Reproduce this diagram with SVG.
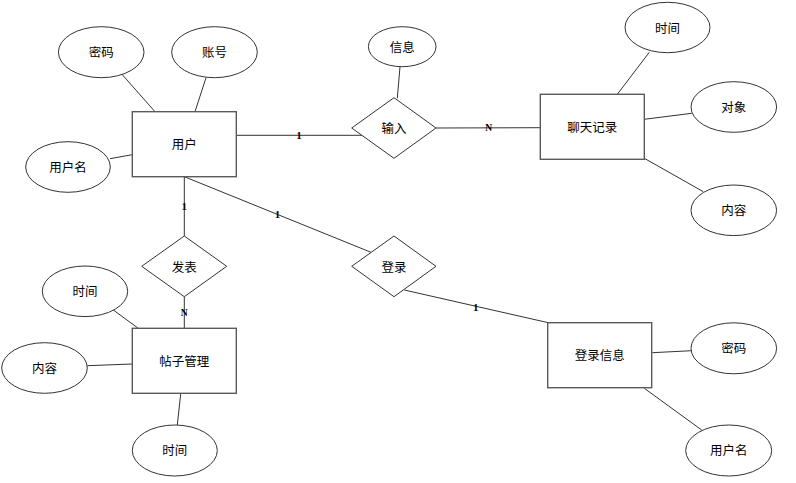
<svg xmlns="http://www.w3.org/2000/svg" width="796" height="483" viewBox="0 0 796 483">
<style>
.bg{fill:#ffffff}
.ent{fill:#ffffff;stroke:#5a5a5a;stroke-width:1.4}
.attr{fill:#ffffff;stroke:#333333;stroke-width:1}
.rel{fill:#ffffff;stroke:#333333;stroke-width:1}
.ln{stroke:#333333;stroke-width:1;fill:none}
.t{font-family:"Noto Sans CJK SC","Noto Sans",sans-serif;font-size:12.5px;fill:#000000;text-anchor:middle;dominant-baseline:central}
.card{font-family:"Liberation Serif",serif;font-weight:bold;font-size:11px;fill:#000000;text-anchor:middle;dominant-baseline:central}
</style>
<rect class="bg" x="0" y="0" width="796" height="483"/>
<g id="connectors">
<line class="ln" x1="121.7" y1="74" x2="155" y2="111.7"/>
<line class="ln" x1="206" y1="77.7" x2="195" y2="111.7"/>
<line class="ln" x1="110" y1="158.7" x2="132.3" y2="154.7"/>
<line class="ln" x1="400" y1="66.7" x2="397.3" y2="98.3"/>
<line class="ln" x1="236.3" y1="135.3" x2="361.9" y2="135.3"/>
<line class="ln" x1="436" y1="128" x2="540.3" y2="127.7"/>
<line class="ln" x1="649.3" y1="52.3" x2="617.3" y2="94.3"/>
<line class="ln" x1="644.3" y1="119.3" x2="691.7" y2="113.3"/>
<line class="ln" x1="644.3" y1="158.3" x2="703.3" y2="191.7"/>
<line class="ln" x1="184.3" y1="176.7" x2="184.3" y2="236"/>
<line class="ln" x1="184.3" y1="176.7" x2="371" y2="252.3"/>
<line class="ln" x1="184.3" y1="296.7" x2="184.3" y2="328.3"/>
<line class="ln" x1="404.3" y1="290" x2="548.3" y2="322.7"/>
<line class="ln" x1="113.3" y1="310" x2="138.3" y2="328.3"/>
<line class="ln" x1="87.3" y1="365.7" x2="132.3" y2="364"/>
<line class="ln" x1="180.7" y1="394" x2="177.3" y2="425"/>
<line class="ln" x1="652.3" y1="352.7" x2="691.7" y2="350.7"/>
<line class="ln" x1="644.3" y1="388.3" x2="701.7" y2="430"/>
<text class="card" x="299" y="135">1</text>
<text class="card" x="488.7" y="127.5" style="font-size:9.5px">N</text>
<text class="card" x="184.3" y="206">1</text>
<text class="card" x="277.5" y="214">1</text>
<text class="card" x="184.3" y="312.7" style="font-size:9.5px">N</text>
<text class="card" x="475.7" y="306.5">1</text>
</g>
<g id="user">
<rect class="ent" x="132.3" y="111.7" width="104" height="65"/>
<text class="t" x="184.3" y="143.5">用户</text>
</g>
<g id="user-password">
<ellipse class="attr" cx="101.2" cy="52.2" rx="42.8" ry="25.5"/>
<text class="t" x="101.2" y="51.5">密码</text>
</g>
<g id="user-account">
<ellipse class="attr" cx="214.5" cy="52.2" rx="42.8" ry="25.5"/>
<text class="t" x="214.5" y="51.5">账号</text>
</g>
<g id="user-name">
<ellipse class="attr" cx="68" cy="167" rx="42.3" ry="25.3"/>
<text class="t" x="68" y="166">用户名</text>
</g>
<g id="input">
<polygon class="rel" points="351.7,128 394,97.7 436,128 394,158.3"/>
<text class="t" x="394" y="127.5">输入</text>
</g>
<g id="input-info">
<ellipse class="attr" cx="402.2" cy="46.7" rx="33.8" ry="20"/>
<text class="t" x="402.2" y="46">信息</text>
</g>
<g id="chat">
<rect class="ent" x="540.3" y="94.3" width="104" height="65"/>
<text class="t" x="592.3" y="126.5">聊天记录</text>
</g>
<g id="chat-time">
<ellipse class="attr" cx="667.5" cy="27.5" rx="42.5" ry="25.2"/>
<text class="t" x="667.5" y="27">时间</text>
</g>
<g id="chat-target">
<ellipse class="attr" cx="733.8" cy="107" rx="42.8" ry="25.3"/>
<text class="t" x="733.8" y="106.5">对象</text>
</g>
<g id="chat-content">
<ellipse class="attr" cx="733.8" cy="210.3" rx="42.8" ry="25.3"/>
<text class="t" x="733.8" y="209.5">内容</text>
</g>
<g id="publish">
<polygon class="rel" points="141.7,266.3 184.3,236 226.7,266.3 184.3,296.7"/>
<text class="t" x="184.3" y="266">发表</text>
</g>
<g id="login">
<polygon class="rel" points="351.7,266.3 394,236 436,266.3 394,296.7"/>
<text class="t" x="394" y="266">登录</text>
</g>
<g id="post">
<rect class="ent" x="132.3" y="328.3" width="104" height="65"/>
<text class="t" x="184.3" y="360">帖子管理</text>
</g>
<g id="post-time1">
<ellipse class="attr" cx="85" cy="291.3" rx="42.7" ry="25.3"/>
<text class="t" x="85" y="290.5">时间</text>
</g>
<g id="post-content">
<ellipse class="attr" cx="44.5" cy="368" rx="42.8" ry="25.3"/>
<text class="t" x="44.5" y="367">内容</text>
</g>
<g id="post-time2">
<ellipse class="attr" cx="174.8" cy="450.5" rx="42.5" ry="25.5"/>
<text class="t" x="174.8" y="449.5">时间</text>
</g>
<g id="login-info">
<rect class="ent" x="547.7" y="322.7" width="104" height="65"/>
<text class="t" x="599.7" y="354.5">登录信息</text>
</g>
<g id="login-password">
<ellipse class="attr" cx="733.8" cy="348.3" rx="42.8" ry="25.5"/>
<text class="t" x="733.8" y="347.5">密码</text>
</g>
<g id="login-name">
<ellipse class="attr" cx="728.7" cy="450.5" rx="43" ry="25.5"/>
<text class="t" x="728.7" y="449.5">用户名</text>
</g>
</svg>
